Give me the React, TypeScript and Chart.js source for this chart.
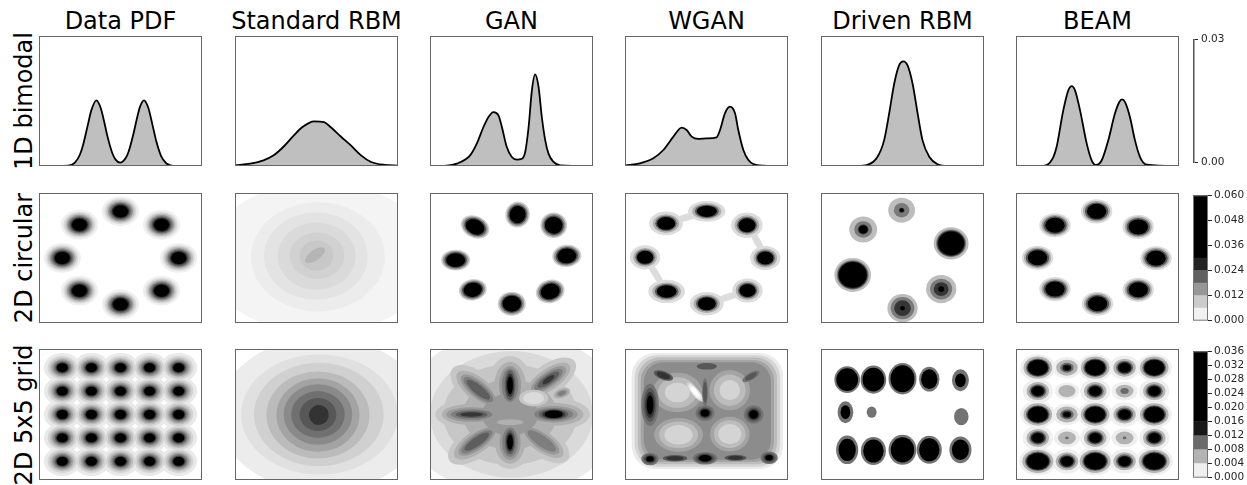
import React, { useEffect, useRef } from 'react';
import { Chart, registerables } from 'chart.js';

Chart.register(...registerables);

const FONT = "'DejaVu Sans', 'Liberation Sans', sans-serif";

// ---------- text ----------
const titles = ['Data PDF', 'Standard RBM', 'GAN', 'WGAN', 'Driven RBM', 'BEAM'];
const rowLabels = ['1D bimodal', '2D circular', '2D 5x5 grid'];

// ---------- row 1: 1D densities (x normalised 0..1, density) ----------
const pdf1dX = [0, 0.15, 0.2, 0.22, 0.25, 0.27, 0.3, 0.32, 0.352, 0.38, 0.4, 0.42, 0.45, 0.47, 0.498, 0.53, 0.55, 0.58, 0.6, 0.62, 0.644, 0.67, 0.7, 0.72, 0.75, 0.78, 0.8, 0.85, 1];
const pdf1dY = [0, 0.00002, 0.00029, 0.00077, 0.00254, 0.0048, 0.00954, 0.01272, 0.01515, 0.01323, 0.0102, 0.00684, 0.00294, 0.00147, 0.00078, 0.00171, 0.00336, 0.0075, 0.01086, 0.01371, 0.01515, 0.0135, 0.00885, 0.00564, 0.0022, 0.00063, 0.00023, 0.00001, 0];
const rbm1dX = [0, 0.093, 0.175, 0.237, 0.299, 0.361, 0.412, 0.485, 0.546, 0.588, 0.649, 0.711, 0.773, 0.835, 0.918, 1];
const rbm1dY = [0.00015, 0.00054, 0.00129, 0.00246, 0.0045, 0.00705, 0.00894, 0.01032, 0.01011, 0.00894, 0.00681, 0.00474, 0.00246, 0.00093, 0.00024, 0.00009];
const gan1dX = [0, 0.102, 0.164, 0.246, 0.287, 0.328, 0.359, 0.389, 0.42, 0.441, 0.471, 0.502, 0.533, 0.564, 0.584, 0.605, 0.625, 0.645, 0.666, 0.686, 0.707, 0.727, 0.758, 0.799, 1];
const gan1dY = [0, 0.00009, 0.00054, 0.00246, 0.00516, 0.009, 0.01131, 0.01245, 0.0117, 0.009, 0.00438, 0.00207, 0.00147, 0.00168, 0.00324, 0.009, 0.01746, 0.02115, 0.01824, 0.01131, 0.00591, 0.00285, 0.00093, 0.00015, 0];
const wgan1dX = [0, 0.092, 0.174, 0.235, 0.297, 0.348, 0.378, 0.409, 0.45, 0.501, 0.562, 0.583, 0.613, 0.644, 0.675, 0.695, 0.726, 0.757, 0.787, 0.849, 1];
const wgan1dY = [0.00009, 0.00063, 0.00177, 0.00369, 0.00678, 0.00885, 0.00831, 0.00678, 0.00624, 0.00639, 0.00663, 0.00831, 0.01215, 0.01368, 0.01215, 0.00831, 0.00369, 0.00138, 0.00045, 0.00009, 0];
const drv1dX = [0, 0.222, 0.284, 0.346, 0.387, 0.418, 0.449, 0.479, 0.504, 0.531, 0.562, 0.593, 0.623, 0.665, 0.716, 0.778, 1];
const drv1dY = [0, 0, 0.00024, 0.00207, 0.00591, 0.01209, 0.01899, 0.02322, 0.02415, 0.02322, 0.01899, 0.01209, 0.00591, 0.00207, 0.00039, 0, 0];
const beam1dX = [0, 0.147, 0.188, 0.229, 0.249, 0.29, 0.321, 0.342, 0.362, 0.393, 0.434, 0.464, 0.491, 0.526, 0.566, 0.607, 0.634, 0.65, 0.669, 0.699, 0.73, 0.761, 0.802, 1];
const beam1dY = [0, 0, 0.00024, 0.00207, 0.00438, 0.01284, 0.01746, 0.01845, 0.01746, 0.01284, 0.00516, 0.00132, 0.00024, 0.00132, 0.00591, 0.01209, 0.01476, 0.01539, 0.01476, 0.01131, 0.00591, 0.00207, 0.0003, 0];

// ---------- colorbars ----------
const cb1Ticks = [0, 0.03];
const cb2Ticks = [0, 0.012, 0.024, 0.036, 0.048, 0.06];
const cb2Bands = [0.006, 0.006, 0.006, 0.006, 0.006, 0.03];
const cb2Colors = ['#f1f1f1', '#cbcbcb', '#979797', '#616161', '#232323', '#000000'];
const cb3Ticks = [0, 0.004, 0.008, 0.012, 0.016, 0.02, 0.024, 0.028, 0.032, 0.036];
const cb3Bands = [0.004, 0.004, 0.004, 0.004, 0.02];
const cb3Colors = ['#efefef', '#b3b3b3', '#6a6a6a', '#171717', '#000000'];

// ---------- density blobs (data units, axes -2.8..2.8) ----------
type Sc = number | [number, number];
interface Blob { x: number; y: number; rx: number; ry: number; rot: number; lv: number[]; s: Sc[]; top?: boolean; round?: number }
function e(x: number, y: number, rx: number, ry: number, rot: number, from: number, s: Sc[]): Blob {
  return { x, y, rx, ry, rot, lv: s.map((_, i) => from + i), s };
}
function t(x: number, y: number, rx: number, ry: number, rot: number, lv: number[], s: Sc[]): Blob {
  return { x, y, rx, ry, rot, lv, s, top: true };
}
function rr(x: number, y: number, rx: number, ry: number, round: number, from: number, s: Sc[]): Blob {
  return { ...e(x, y, rx, ry, 0, from, s), round };
}

// 2D circular
const circPdfLevels = ['#efefef', '#d9d9d9', '#bdbdbd', '#969696', '#737373', '#525252', '#252525', '#000000'];
const circPdfCenters = [[0, 2.01], [1.41, 1.43], [2.0, 0.0], [1.41, -1.41], [0, -2.0], [-1.41, -1.41], [-2.0, 0.0], [-1.41, 1.43]];
const circPdfRing = [1, 0.86, 0.76, 0.67, 0.59, 0.52, 0.46, 0.4];
const circPdfBlobs = circPdfCenters.map(([x, y]) => e(x, y, 0.64, 0.64, 0, 0, circPdfRing));

const circRbmLevels = ['#f4f4f4', '#ececec', '#e3e3e3', '#dadada', '#d1d1d1', '#c8c8c8', '#b5b5b5'];
const circRbmBlobs = [
  e(0.1, 0.0, 3.9, 3.25, 0, 0, [1]),
  e(0.05, 0.05, 2.3, 2.35, 0, 1, [1]),
  e(-0.02, 0.08, 1.78, 1.88, 0, 2, [1]),
  e(0.0, 0.08, 1.34, 1.45, 0, 3, [1]),
  e(0.02, 0.1, 0.94, 1.0, 0, 4, [1]),
  e(0.0, 0.1, 0.58, 0.65, 0, 5, [1]),
  e(-0.05, 0.12, 0.4, 0.22, 35, 6, [1]),
];

const circGanLevels = ['#cfcfcf', '#979797', '#4d4d4d', '#000000'];
const circGanRing = [1, 0.89, 0.77, 0.66];
const circGanBlobs = [
  e(0.21, 1.87, 0.42, 0.56, -15, 0, circGanRing),
  e(1.45, 1.41, 0.46, 0.55, -10, 0, circGanRing),
  e(1.90, 0.09, 0.50, 0.48, 5, 0, circGanRing),
  e(1.33, -1.44, 0.50, 0.50, 15, 0, circGanRing),
  e(0.01, -1.97, 0.48, 0.52, 0, 0, circGanRing),
  e(-1.33, -1.37, 0.48, 0.46, 10, 0, circGanRing),
  e(-1.92, -0.09, 0.50, 0.45, 0, 0, circGanRing),
  e(-1.25, 1.34, 0.51, 0.47, -25, 0, circGanRing),
];

const circWganLevels = ['#dcdcdc', '#acacac', '#5c5c5c', '#000000'];
const circWganRing = [1, 0.78, 0.64, 0.54];
const circWganBlobs = [
  e(-0.69, 1.75, 0.58, 0.15, 16, 0, [1]),
  e(1.75, 0.70, 0.5, 0.15, -61, 0, [1]),
  e(-1.74, -0.70, 0.52, 0.15, -58, 0, [1]),
  e(0.71, -1.69, 0.58, 0.15, 18, 0, [1]),
  e(0.01, 2.01, 0.64, 0.45, 0, 0, circWganRing),
  e(1.39, 1.41, 0.54, 0.55, 0, 0, circWganRing),
  e(2.02, 0.0, 0.52, 0.52, 0, 0, circWganRing),
  e(1.41, -1.40, 0.52, 0.52, 0, 0, circWganRing),
  e(0.01, -1.97, 0.58, 0.51, 0, 0, circWganRing),
  e(-1.37, -1.44, 0.63, 0.5, 0, 0, circWganRing),
  e(-2.11, 0.03, 0.52, 0.52, 0, 0, circWganRing),
  e(-1.39, 1.49, 0.58, 0.51, 0, 0, circWganRing),
];

const circDrvLevels = ['#bdbdbd', '#7a7a7a', '#353535', '#000000'];
const circDrvBlobs = [
  e(-0.03, 2.06, 0.46, 0.54, 0, 0, [1, 0.58, 0.2, 0.15]),
  e(-1.35, 1.23, 0.48, 0.56, 0, 0, [1, 0.64, 0.38, 0.31]),
  e(1.67, 0.63, 0.60, 0.69, 0, 0, [1, 0.86, 0.8, 0.74]),
  e(-1.71, -0.73, 0.63, 0.73, 0, 0, [1, 0.87, 0.81, 0.76]),
  e(1.33, -1.34, 0.52, 0.61, 0, 0, [1, 0.73, 0.49, 0.2]),
  e(0.0, -2.16, 0.52, 0.61, 0, 0, [1, 0.78, 0.55, 0.16]),
];

const circBeamLevels = ['#dcdcdc', '#a8a8a8', '#565656', '#000000'];
const circBeamCenters = [[-0.03, 2.01], [1.40, 1.34], [2.01, -0.01], [1.40, -1.37], [0.0, -1.97], [-1.46, -1.34], [-2.06, 0.01], [-1.46, 1.41]];
const circBeamRing = [1, 0.86, 0.74, 0.62];
const circBeamBlobs = circBeamCenters.map(([x, y]) => e(x, y, 0.54, 0.52, 0, 0, circBeamRing));

// 2D 5x5 grid
const grid5 = [-2, -1, 0, 1, 2];
const gridPdfLevels = ['#e9e9e9', '#d4d4d4', '#bcbcbc', '#9e9e9e', '#7e7e7e', '#5c5c5c', '#353535', '#000000'];
const gridPdfRing = [1, 0.8, 0.68, 0.58, 0.49, 0.41, 0.35, 0.3];
const gridPdfBlobs = grid5.flatMap((y) => grid5.map((x) => e(x, y, 0.63, 0.63, 0, 0, gridPdfRing)));

const gridRbmLevels = ['#ececec', '#e0e0e0', '#d0d0d0', '#bbbbbb', '#a3a3a3', '#8a8a8a', '#707070', '#575757', '#333333'];
const gridRbmBlobs = [
  e(0.2, 0.0, 3.57, 3.3, 0, 0, [1]),
  e(0.1, 0.0, 2.69, 2.57, 0, 1, [1]),
  e(0.08, 0.0, 2.23, 2.21, 0, 2, [1]),
  e(0.05, -0.02, 1.77, 1.86, 0, 3, [1]),
  e(0.05, -0.02, 1.43, 1.57, 0, 4, [1]),
  e(0.05, 0.0, 1.18, 1.29, 0, 5, [1]),
  e(0.05, 0.0, 0.92, 1.0, 0, 6, [1]),
  e(0.05, 0.0, 0.63, 0.71, 0, 7, [1]),
  e(0.08, -0.02, 0.34, 0.43, 10, 8, [1]),
];

const gridGanLevels = ['#ebebeb', '#dadada', '#c6c6c6', '#b0b0b0', '#989898', '#7e7e7e', '#5e5e5e', '#363636', '#000000'];
const gridGanBlobs = [
  e(0, 0.05, 3.75, 3.5, 0, 0, [1]),
  e(0, 0.0, 2.8, 2.7, 0, 1, [1]),
  e(-0.05, 0, 2.3, 2.15, 0, 2, [1, 0.7, 0.42]),
  e(-0.05, 1.25, 0.75, 1.25, 0, 2, [[1, 1], [0.72, 0.8], [0.5, 0.66], [0.38, 0.57], [0.25, 0.51], [0.19, 0.4], [0.13, 0.31]]),
  e(-0.05, -1.18, 0.72, 1.15, 0, 2, [[1, 1], [0.72, 0.8], [0.5, 0.66], [0.38, 0.54], [0.25, 0.45], [0.19, 0.36], [0.14, 0.28]]),
  e(-1.37, 0.0, 1.25, 0.65, 0, 2, [[1, 1], [0.82, 0.7], [0.7, 0.48], [0.57, 0.34], [0.44, 0.23], [0.32, 0.15]]),
  e(1.45, 0.01, 1.25, 0.7, 0, 2, [[1, 1], [0.82, 0.7], [0.66, 0.5], [0.53, 0.39], [0.4, 0.32], [0.32, 0.27], [0.25, 0.23]]),
  e(-1.14, 1.06, 1.15, 0.7, -39, 2, [[1, 1], [0.8, 0.7], [0.65, 0.52], [0.55, 0.39], [0.44, 0.28]]),
  e(1.27, 1.49, 1.1, 0.65, 35, 2, [[1, 1], [0.8, 0.7], [0.65, 0.52], [0.53, 0.39], [0.4, 0.28], [0.22, 0.17]]),
  e(-1.19, -1.16, 1.15, 0.68, 35, 2, [[1, 1], [0.8, 0.7], [0.65, 0.52], [0.55, 0.39], [0.44, 0.28]]),
  e(1.04, -1.13, 1.1, 0.65, -35, 2, [[1, 1], [0.8, 0.7], [0.65, 0.52], [0.53, 0.36]]),
  e(1.73, 0.91, 0.3, 0.2, 20, 3, [1, 0.7, 0.45]),
  t(0.76, 0.70, 0.5, 0.36, 0, [2, 1], [1, 0.72]),
  t(-0.05, -0.33, 0.45, 0.13, 0, [3], [1]),
];

const gridWganLevels = ['#ebebeb', '#d4d4d4', '#bcbcbc', '#a4a4a4', '#8c8c8c', '#737373', '#575757', '#333333', '#000000', '#ffffff'];
const gridWganBlobs = [
  rr(0.03, 0.15, 2.6, 2.48, 0.4, 0, [1, 0.96, 0.92, 0.88, 0.84]),
  t(-1.0, 0.94, 0.86, 0.84, 0, [3, 2, 1], [1, 0.78, 0.5]),
  t(0.8, 1.04, 0.7, 0.86, 0, [3, 2, 1], [1, 0.78, 0.5]),
  t(-0.96, -0.87, 0.84, 0.72, 0, [3, 2, 1], [1, 0.8, 0.58]),
  t(0.8, -0.84, 0.68, 0.74, 0, [3, 2, 1], [1, 0.8, 0.58]),
  t(-0.39, 0.96, 0.42, 0.16, -50, [1, 0, 9], [1, 0.8, 0.55]),
  t(-0.05, 0.95, 0.1, 0.6, 0, [5, 6], [[1, 1], [0.7, 0.75]]),
  t(-1.94, 0.41, 0.3, 0.9, 0, [5, 6, 7, 8], [[1, 1], [0.75, 0.8], [0.55, 0.62], [0.38, 0.46]]),
  t(-1.94, -1.9, 0.3, 0.27, 0, [5, 6, 7, 8], [1, 0.75, 0.55, 0.42]),
  t(-0.05, -1.87, 0.42, 0.27, 0, [5, 6, 7, 8], [1, 0.8, 0.62, 0.5]),
  t(-1.08, -1.87, 0.42, 0.14, 0, [6, 7], [1, 0.7]),
  t(1.0, -1.85, 0.38, 0.13, 0, [6, 7], [1, 0.7]),
  t(2.15, -1.85, 0.3, 0.27, 0, [5, 6, 7, 8], [1, 0.75, 0.55, 0.42]),
  t(-0.05, 0.06, 0.33, 0.34, 0, [5, 6, 7, 8], [1, 0.75, 0.58, 0.45]),
  t(1.62, 0.0, 0.34, 0.4, 0, [5, 6, 7, 8], [1, 0.75, 0.58, 0.45]),
  t(-1.48, 1.67, 0.35, 0.18, -20, [6, 7], [1, 0.7]),
  t(0.01, 2.06, 0.35, 0.14, 0, [6], [1]),
  t(1.53, 1.63, 0.33, 0.16, 30, [5, 6], [1, 0.7]),
];

const gridDrvLevels = ['#737373', '#000000'];
const gridDrvBlobs = [
  e(-1.90, 1.49, 0.44, 0.57, 0, 0, [1, 0.85]),
  e(-1.00, 1.49, 0.44, 0.60, 0, 0, [1, 0.85]),
  e(0.00, 1.53, 0.48, 0.67, 0, 0, [1, 0.86]),
  e(0.92, 1.51, 0.35, 0.53, 0, 0, [1, 0.8]),
  e(1.99, 1.46, 0.29, 0.47, 0, 0, [1, 0.63]),
  e(-1.96, 0.10, 0.27, 0.47, 0, 0, [1, 0.62]),
  e(-1.06, 0.10, 0.17, 0.24, 0, 0, [1]),
  e(2.02, -0.09, 0.25, 0.37, 0, 0, [1]),
  e(-1.90, -1.51, 0.38, 0.61, 0, 0, [1, 0.78]),
  e(-1.00, -1.56, 0.43, 0.60, 0, 0, [1, 0.82]),
  e(0.00, -1.51, 0.48, 0.64, 0, 0, [1, 0.84]),
  e(0.92, -1.51, 0.43, 0.60, 0, 0, [1, 0.82]),
  e(1.99, -1.51, 0.38, 0.57, 0, 0, [1, 0.77]),
];

const gridBeamLevels = cb3Colors;
const gridBeamCols = [-2.05, -1.05, -0.08, 0.93, 1.95];
const gridBeamRows = [2, 1, 0, -1, -2];
const gridBeamKinds = [
  ['B', 'S', 'B', 'M', 'B'],
  ['M', 'L', 'M', 'D', 'M'],
  ['B', 'S', 'B', 'M', 'B'],
  ['M', 'T', 'M', 'T', 'M'],
  ['G', 'M', 'G', 'M', 'G'],
];
const beamKindShape: Record<string, [number, number, number[]]> = {
  B: [0.6, 0.58, [1, 0.82, 0.68, 0.61, 0.55]],
  G: [0.64, 0.6, [1, 0.83, 0.69, 0.62, 0.56]],
  M: [0.52, 0.52, [1, 0.74, 0.57, 0.46, 0.36]],
  S: [0.5, 0.46, [1, 0.74, 0.46, 0.3, 0.18]],
  D: [0.45, 0.4, [1, 0.68, 0.32]],
  T: [0.45, 0.4, [1, 0.68, 0.14]],
  L: [0.42, 0.37, [1, 0.7]],
};
const gridBeamBlobs = gridBeamRows.flatMap((y, ri) =>
  gridBeamCols.map((x, ci) => {
    const [rx, ry, s] = beamKindShape[gridBeamKinds[ri][ci]];
    return e(x, y, rx, ry, 0, 0, s);
  })
);

// ---------- layout ----------
const colLeft = [39, 235, 430, 625, 821, 1016];
const panelW = 163;
const rowTop = [36, 193, 349];
const rowH = [130, 130, 131];

// ---------- plugins ----------
function makeFrame(color: string) {
  return {
    id: 'frame',
    afterDraw(chart: any) {
      const { ctx, chartArea: a } = chart;
      ctx.save();
      ctx.strokeStyle = color;
      ctx.lineWidth = 1;
      ctx.strokeRect(a.left + 0.5, a.top + 0.5, a.right - a.left - 1, a.bottom - a.top - 1);
      ctx.restore();
    },
  };
}

function makeContour(levels: string[], blobs: Blob[]) {
  return {
    id: 'contour',
    beforeDatasetsDraw(chart: any) {
      const { ctx, chartArea: a } = chart;
      const xs = chart.scales.x;
      const ys = chart.scales.y;
      ctx.save();
      ctx.beginPath();
      ctx.rect(a.left, a.top, a.right - a.left, a.bottom - a.top);
      ctx.clip();
      const draw = (b: Blob, k: number) => {
        const sc = b.s[k];
        const sx = Array.isArray(sc) ? sc[0] : sc;
        const sy = Array.isArray(sc) ? sc[1] : sc;
        const cx = xs.getPixelForValue(b.x);
        const cy = ys.getPixelForValue(b.y);
        const rx = Math.abs(xs.getPixelForValue(b.x + b.rx * sx) - cx);
        const ry = Math.abs(ys.getPixelForValue(b.y + b.ry * sy) - cy);
        ctx.fillStyle = levels[b.lv[k]];
        ctx.beginPath();
        if (b.round !== undefined) {
          ctx.roundRect(cx - rx, cy - ry, 2 * rx, 2 * ry, Math.min(rx, ry) * b.round);
        } else {
          ctx.ellipse(cx, cy, rx, ry, (-b.rot * Math.PI) / 180, 0, Math.PI * 2);
        }
        ctx.fill();
      };
      for (let L = 0; L < levels.length; L++) {
        for (const b of blobs) {
          if (b.top) continue;
          b.lv.forEach((lv, k) => {
            if (lv === L) draw(b, k);
          });
        }
      }
      for (const b of blobs) {
        if (b.top) b.s.forEach((_, k) => draw(b, k));
      }
      ctx.restore();
    },
  };
}

const baseOptions = {
  animation: false,
  responsive: false,
  events: [],
  layout: { padding: 0 },
};

function densityConfig(xs: number[], ys: number[]) {
  return {
    type: 'line',
    data: {
      datasets: [
        {
          data: xs.map((x, i) => ({ x, y: ys[i] })),
          borderColor: '#000000',
          borderWidth: 1.8,
          backgroundColor: '#bfbfbf',
          fill: 'origin',
          pointRadius: 0,
          cubicInterpolationMode: 'monotone',
        },
      ],
    },
    options: {
      ...baseOptions,
      plugins: { legend: { display: false }, tooltip: { enabled: false } },
      scales: {
        x: { type: 'linear', display: false, min: 0, max: 1 },
        y: { type: 'linear', display: false, min: 0, max: 0.03 },
      },
    },
    plugins: [makeFrame('#666666')],
  };
}

function contourConfig(levels: string[], blobs: Blob[]) {
  return {
    type: 'scatter',
    data: { datasets: [{ data: blobs.map((b) => ({ x: b.x, y: b.y })), pointRadius: 0 }] },
    options: {
      ...baseOptions,
      plugins: { legend: { display: false }, tooltip: { enabled: false } },
      scales: {
        x: { type: 'linear', display: false, min: -2.8, max: 2.8 },
        y: { type: 'linear', display: false, min: -2.8, max: 2.8 },
      },
    },
    plugins: [makeContour(levels, blobs), makeFrame('#666666')],
  };
}

function colorbarConfig(ticks: number[], bands: number[], colors: string[], max: number, decimals: number, axisWidth: number, line: boolean) {
  return {
    type: 'bar',
    data: {
      labels: [''],
      datasets: bands.map((v, i) => ({
        data: [v],
        backgroundColor: colors[i],
        borderWidth: 0,
        barPercentage: 1,
        categoryPercentage: 1,
        stack: 'cb',
      })),
    },
    options: {
      ...baseOptions,
      layout: { padding: { top: 6, bottom: 6, left: 0, right: 0 } },
      plugins: { legend: { display: false }, tooltip: { enabled: false } },
      scales: {
        x: { stacked: true, display: false },
        y: {
          stacked: true,
          position: 'right',
          min: 0,
          max,
          afterBuildTicks: (s: any) => {
            s.ticks = ticks.map((value) => ({ value }));
          },
          afterFit: (s: any) => {
            s.width = axisWidth;
          },
          ticks: {
            autoSkip: false,
            callback: (v: any) => Number(v).toFixed(decimals),
            font: { family: FONT, size: 10.5 },
            color: '#262626',
            padding: line ? 3 : 2,
          },
          grid: { drawOnChartArea: false, drawTicks: true, tickLength: 4, color: '#262626', lineWidth: 1 },
          border: { display: line, color: '#555555', width: 1.5 },
        },
      },
    },
    plugins: line ? [] : [makeFrame('#777777')],
  };
}

function ChartBox({ left, top, width, height, make }: { left: number; top: number; width: number; height: number; make: () => any }) {
  const ref = useRef<HTMLCanvasElement>(null);
  useEffect(() => {
    const chart = new Chart(ref.current as HTMLCanvasElement, make());
    return () => chart.destroy();
  }, []);
  return <canvas ref={ref} width={width} height={height} style={{ position: 'absolute', left, top, width, height }} />;
}

const row1 = [
  [pdf1dX, pdf1dY],
  [rbm1dX, rbm1dY],
  [gan1dX, gan1dY],
  [wgan1dX, wgan1dY],
  [drv1dX, drv1dY],
  [beam1dX, beam1dY],
];
const row2: [string[], Blob[]][] = [
  [circPdfLevels, circPdfBlobs],
  [circRbmLevels, circRbmBlobs],
  [circGanLevels, circGanBlobs],
  [circWganLevels, circWganBlobs],
  [circDrvLevels, circDrvBlobs],
  [circBeamLevels, circBeamBlobs],
];
const row3: [string[], Blob[]][] = [
  [gridPdfLevels, gridPdfBlobs],
  [gridRbmLevels, gridRbmBlobs],
  [gridGanLevels, gridGanBlobs],
  [gridWganLevels, gridWganBlobs],
  [gridDrvLevels, gridDrvBlobs],
  [gridBeamLevels, gridBeamBlobs],
];

export default function App() {
  return (
    <div style={{ position: 'fixed', left: 0, top: 0, width: 1247, height: 485, background: '#ffffff', fontFamily: FONT, overflow: 'hidden' }}>
      {titles.map((tt, i) => (
        <div key={'t' + i} style={{ position: 'absolute', left: colLeft[i] - 40, top: 9, width: panelW + 80, textAlign: 'center', fontSize: 24, lineHeight: '24px', color: '#000', whiteSpace: 'nowrap' }}>
          {tt}
        </div>
      ))}
      {rowLabels.map((lb, i) => (
        <div
          key={'l' + i}
          style={{
            position: 'absolute',
            left: 23.5 - 90,
            top: rowTop[i] + rowH[i] / 2 - 12,
            width: 180,
            height: 24,
            textAlign: 'center',
            fontSize: 24,
            lineHeight: '24px',
            color: '#000',
            whiteSpace: 'nowrap',
            transform: 'rotate(-90deg)',
            transformOrigin: '50% 50%',
          }}
        >
          {lb}
        </div>
      ))}
      {row1.map(([xs, ys], i) => (
        <ChartBox key={'a' + i} left={colLeft[i]} top={rowTop[0]} width={panelW} height={rowH[0]} make={() => densityConfig(xs, ys)} />
      ))}
      {row2.map(([lv, bl], i) => (
        <ChartBox key={'b' + i} left={colLeft[i]} top={rowTop[1]} width={panelW} height={rowH[1]} make={() => contourConfig(lv, bl)} />
      ))}
      {row3.map(([lv, bl], i) => (
        <ChartBox key={'c' + i} left={colLeft[i]} top={rowTop[2]} width={panelW} height={rowH[2]} make={() => contourConfig(lv, bl)} />
      ))}
      <ChartBox left={1180} top={rowTop[0] - 6} width={67} height={rowH[0] + 12} make={() => colorbarConfig(cb1Ticks, [], [], 0.03, 2, 53, true)} />
      <ChartBox left={1193} top={rowTop[1] - 6} width={54} height={rowH[1] + 12} make={() => colorbarConfig(cb2Ticks, cb2Bands, cb2Colors, 0.06, 3, 39, false)} />
      <ChartBox left={1193} top={rowTop[2] - 6} width={54} height={rowH[2] + 12} make={() => colorbarConfig(cb3Ticks, cb3Bands, cb3Colors, 0.036, 3, 39, false)} />
    </div>
  );
}
